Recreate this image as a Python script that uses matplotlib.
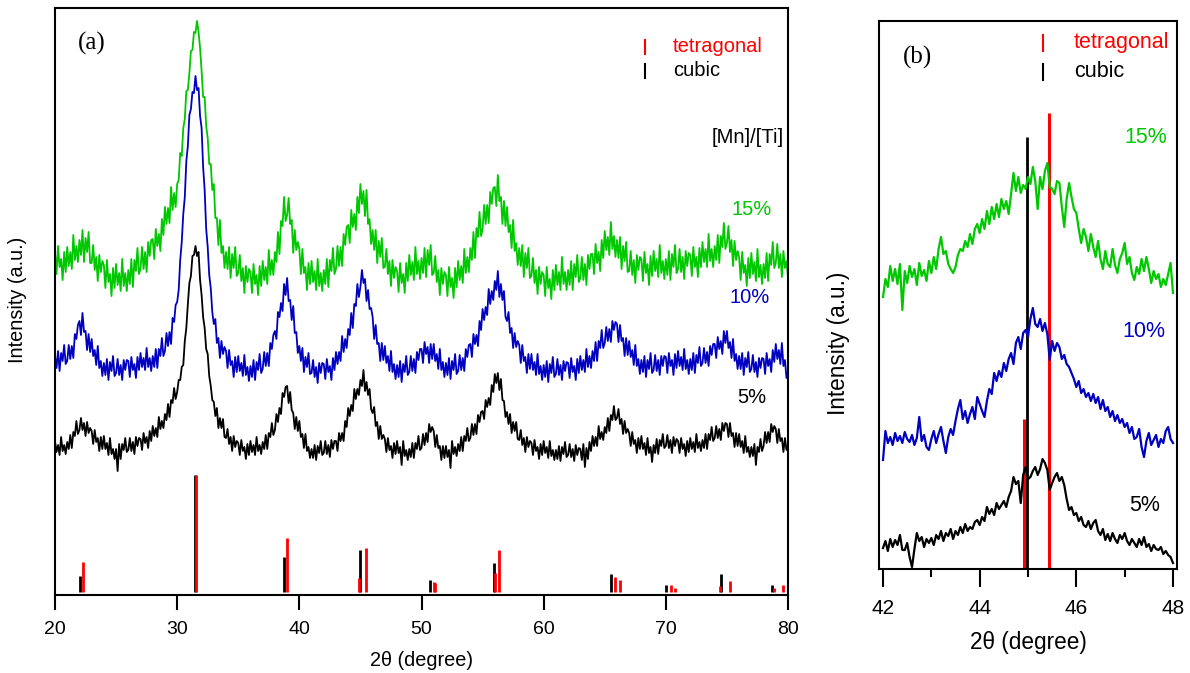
import matplotlib.pyplot as plt
import numpy as np

plt.rcParams['font.family'] = ['Liberation Sans', 'DejaVu Sans']

# ---- panel (a): full scan, 20-80 deg, 0.125 deg steps (8 points per degree row) ----
two_theta_a = np.linspace(20, 80, 481)

mn5_a = [154, 143, 150, 140, 158, 144, 150, 141,
         153, 146, 160, 147, 163, 159, 174, 161,
         165, 177, 165, 172, 159, 173, 162, 167,
         164, 151, 165, 153, 157, 144, 158, 146,
         159, 146, 152, 140, 157, 141, 146, 136,
         146, 124, 151, 136, 151, 145, 157, 143,
         145, 157, 144, 153, 141, 158, 149, 157,
         156, 145, 162, 152, 158, 147, 164, 154,
         169, 159, 167, 158, 178, 166, 174, 167,
         181, 175, 191, 178, 195, 192, 207, 196,
         203, 215, 215, 228, 230, 254, 267, 291,
         312, 319, 339, 340, 349, 339, 343, 315,
         300, 278, 267, 246, 241, 219, 209, 195,
         193, 179, 187, 167, 177, 167, 176, 158,
         157, 166, 151, 158, 144, 159, 148, 154,
         152, 140, 155, 144, 148, 136, 151, 140,
         154, 143, 150, 140, 158, 144, 150, 141,
         153, 146, 160, 146, 162, 158, 172, 160,
         165, 181, 173, 187, 181, 202, 198, 208,
         209, 192, 203, 185, 182, 166, 178, 164,
         174, 158, 161, 147, 161, 144, 148, 137,
         146, 137, 150, 135, 149, 142, 154, 140,
         142, 154, 141, 150, 138, 155, 146, 154,
         154, 144, 162, 154, 162, 154, 174, 168,
         187, 179, 190, 184, 206, 196, 206, 200,
         215, 209, 225, 204, 213, 200, 206, 186,
         182, 188, 169, 173, 156, 169, 156, 160,
         156, 143, 157, 145, 149, 137, 152, 141,
         154, 142, 148, 130, 154, 139, 145, 135,
         146, 138, 152, 137, 152, 146, 159, 145,
         147, 161, 150, 162, 153, 171, 163, 168,
         164, 148, 160, 147, 149, 135, 149, 137,
         149, 138, 145, 127, 154, 141, 148, 139,
         151, 144, 158, 144, 159, 154, 167, 154,
         157, 171, 160, 171, 161, 180, 173, 183,
         184, 176, 195, 188, 197, 190, 210, 203,
         221, 212, 222, 205, 216, 195, 194, 178,
         183, 171, 181, 162, 173, 164, 173, 156,
         155, 165, 150, 157, 143, 158, 148, 154,
         152, 140, 155, 144, 148, 136, 151, 140,
         154, 142, 148, 137, 154, 139, 145, 135,
         145, 136, 149, 134, 148, 141, 153, 138,
         140, 151, 138, 146, 134, 150, 140, 147,
         146, 135, 151, 128, 147, 136, 153, 144,
         159, 149, 158, 149, 169, 156, 163, 155,
         168, 162, 177, 164, 180, 175, 189, 175,
         177, 186, 171, 176, 161, 174, 162, 166,
         162, 149, 163, 151, 155, 142, 157, 146,
         159, 146, 152, 140, 157, 142, 148, 133,
         150, 142, 156, 141, 155, 149, 161, 147,
         149, 160, 147, 155, 142, 158, 149, 156,
         154, 142, 157, 146, 151, 139, 154, 143,
         157, 146, 153, 143, 161, 147, 153, 144,
         155, 147, 161, 146, 161, 155, 168, 154,
         157, 169, 157, 166, 155, 172, 164, 172,
         171, 158, 172, 159, 162, 148, 162, 149,
         161, 148, 154, 142, 159, 143, 148, 138,
         148, 139, 151, 130, 148, 143, 156, 144,
         149, 163, 152, 163, 153, 171, 163, 169,
         166, 152, 166, 154, 157, 143, 157, 145,
         148]

mn10_a = [239, 227, 244, 224, 242, 234, 250, 231,
          234, 250, 236, 249, 237, 261, 256, 270,
          274, 260, 282, 263, 264, 245, 261, 243,
          256, 239, 245, 230, 249, 227, 234, 219,
          232, 220, 236, 215, 233, 224, 239, 219,
          222, 236, 220, 230, 215, 235, 225, 235,
          234, 218, 238, 225, 231, 217, 238, 225,
          242, 228, 237, 225, 247, 228, 237, 224,
          239, 228, 246, 227, 246, 239, 257, 239,
          244, 262, 249, 263, 251, 277, 273, 290,
          293, 305, 335, 353, 381, 398, 434, 449,
          480, 486, 503, 502, 519, 505, 507, 479,
          467, 428, 405, 366, 348, 320, 307, 283,
          271, 276, 252, 257, 237, 254, 241, 248,
          244, 227, 245, 230, 234, 218, 238, 223,
          239, 224, 232, 219, 240, 220, 228, 214,
          229, 218, 235, 215, 233, 225, 241, 222,
          226, 243, 229, 242, 229, 252, 246, 260,
          264, 256, 283, 278, 292, 284, 311, 300,
          317, 294, 295, 275, 289, 262, 263, 242,
          249, 234, 247, 223, 238, 228, 242, 221,
          222, 235, 218, 228, 212, 232, 222, 232,
          231, 216, 236, 223, 229, 215, 237, 225,
          243, 231, 243, 234, 259, 243, 256, 247,
          266, 260, 282, 267, 291, 289, 311, 298,
          308, 325, 312, 316, 294, 305, 286, 287,
          278, 256, 270, 251, 252, 234, 252, 235,
          249, 232, 239, 224, 244, 223, 231, 216,
          230, 218, 234, 213, 231, 223, 239, 220,
          223, 239, 224, 236, 222, 243, 235, 246,
          246, 232, 253, 241, 248, 232, 251, 236,
          251, 234, 241, 226, 246, 225, 233, 218,
          232, 220, 237, 216, 234, 225, 241, 221,
          224, 240, 225, 237, 224, 246, 238, 250,
          251, 238, 261, 251, 260, 249, 274, 265,
          286, 275, 288, 280, 306, 291, 304, 295,
          314, 305, 324, 298, 311, 295, 304, 278,
          274, 283, 262, 267, 247, 262, 248, 254,
          250, 232, 250, 234, 238, 222, 241, 226,
          241, 225, 233, 220, 241, 221, 229, 215,
          230, 218, 234, 213, 231, 222, 238, 218,
          221, 236, 220, 230, 215, 234, 224, 233,
          232, 217, 237, 223, 229, 215, 236, 222,
          239, 225, 235, 223, 246, 228, 239, 227,
          244, 234, 253, 234, 254, 247, 265, 247,
          252, 268, 254, 266, 253, 274, 265, 273,
          271, 253, 270, 254, 257, 239, 257, 240,
          254, 238, 245, 230, 250, 229, 236, 221,
          235, 223, 239, 218, 235, 226, 242, 222,
          225, 240, 224, 235, 220, 239, 229, 239,
          238, 222, 242, 229, 235, 220, 241, 227,
          244, 229, 238, 225, 246, 226, 235, 221,
          236, 225, 242, 222, 240, 232, 248, 229,
          232, 247, 232, 243, 229, 249, 240, 251,
          251, 237, 258, 246, 254, 241, 264, 252,
          264, 247, 253, 237, 256, 234, 241, 226,
          239, 226, 242, 220, 237, 228, 243, 223,
          226, 240, 223, 233, 218, 237, 227, 237,
          236, 221, 242, 229, 236, 223, 245, 233,
          251, 236, 245, 231, 252, 229, 235, 217,
          224]

mn15_a = [343, 321, 349, 328, 336, 315, 343, 323,
          348, 329, 343, 326, 360, 335, 349, 333,
          355, 340, 365, 333, 357, 343, 363, 332,
          332, 350, 325, 338, 314, 340, 323, 334,
          330, 307, 335, 313, 321, 299, 327, 307,
          331, 310, 322, 304, 336, 309, 322, 304,
          325, 311, 336, 308, 335, 324, 347, 321,
          326, 348, 326, 343, 323, 353, 339, 355,
          356, 336, 366, 349, 361, 344, 376, 360,
          388, 371, 387, 372, 408, 385, 402, 388,
          411, 415, 442, 439, 467, 476, 504, 505,
          522, 544, 545, 563, 562, 574, 563, 547,
          524, 498, 498, 469, 457, 431, 431, 405,
          411, 377, 377, 350, 375, 342, 349, 327,
          343, 326, 348, 317, 341, 327, 348, 319,
          322, 340, 314, 327, 302, 329, 313, 326,
          323, 302, 331, 311, 320, 300, 329, 309,
          334, 315, 328, 311, 345, 320, 335, 320,
          343, 333, 363, 341, 374, 369, 398, 374,
          380, 397, 371, 375, 342, 365, 345, 353,
          346, 321, 346, 322, 328, 305, 332, 311,
          334, 313, 324, 305, 336, 309, 322, 304,
          325, 311, 336, 308, 335, 324, 347, 321,
          326, 349, 329, 348, 329, 361, 350, 368,
          370, 352, 385, 368, 381, 365, 398, 382,
          411, 391, 404, 379, 405, 371, 376, 351,
          365, 345, 365, 332, 354, 338, 357, 327,
          328, 346, 321, 334, 309, 335, 317, 328,
          324, 303, 332, 312, 321, 302, 332, 314,
          340, 320, 333, 315, 348, 321, 334, 316,
          337, 322, 347, 318, 345, 330, 350, 320,
          322, 339, 313, 325, 300, 327, 311, 323,
          320, 299, 328, 308, 317, 297, 327, 308,
          334, 315, 329, 312, 346, 322, 338, 323,
          347, 335, 363, 337, 367, 358, 383, 359,
          366, 390, 371, 390, 372, 403, 391, 407,
          408, 389, 420, 394, 398, 371, 394, 369,
          388, 363, 370, 347, 375, 344, 352, 330,
          347, 329, 350, 318, 342, 327, 347, 317,
          319, 337, 312, 325, 301, 328, 311, 323,
          320, 299, 328, 307, 316, 296, 325, 305,
          330, 310, 323, 305, 338, 311, 323, 305,
          325, 310, 334, 305, 331, 318, 340, 313,
          317, 338, 315, 331, 310, 340, 326, 341,
          341, 321, 351, 332, 343, 324, 355, 337,
          364, 345, 358, 340, 373, 346, 359, 338,
          355, 337, 358, 326, 349, 334, 353, 323,
          324, 344, 320, 335, 312, 340, 325, 338,
          336, 314, 343, 322, 331, 310, 339, 319,
          344, 324, 336, 318, 350, 322, 334, 316,
          336, 320, 344, 315, 341, 328, 350, 322,
          326, 346, 323, 338, 316, 344, 329, 342,
          340, 319, 348, 328, 338, 318, 347, 328,
          353, 333, 346, 328, 361, 334, 346, 328,
          349, 335, 360, 332, 359, 348, 372, 346,
          352, 369, 343, 355, 329, 354, 335, 344,
          338, 315, 343, 322, 330, 309, 337, 317,
          342, 321, 333, 314, 346, 318, 330, 311,
          331, 317, 342, 314, 341, 330, 353, 327,
          332, 351, 327, 341, 318, 344, 327, 334,
          318]

# reference patterns (stick positions / relative heights)
cubic_pos = [22.05, 31.42, 38.74, 44.98, 50.68, 55.95, 65.52, 70.0, 74.53, 78.7]
cubic_int = [19, 120, 38, 45, 15, 32, 21, 10, 21, 10]
tetra_pos = [22.3, 31.58, 38.95, 44.87, 45.45, 51.0, 51.12, 56.0, 56.33,
             65.83, 66.24, 70.4, 70.73, 74.42, 75.24, 78.85, 79.57]
tetra_int = [33, 120, 57, 17, 47, 13, 12, 22, 45, 18, 15, 10, 7, 9, 14, 7, 10]

# ---- panel (b): zoom on 42-48 deg, 0.05 deg steps ----
two_theta_b = np.linspace(42, 48, 121)

mn15_b = [272, 290, 282, 303, 288, 300, 285, 305, 259, 298,
          286, 303, 292, 300, 284, 306, 293, 299, 288, 308,
          296, 312, 300, 320, 332, 315, 318, 305, 300, 296,
          302, 314, 320, 318, 328, 322, 335, 325, 340, 345,
          336, 350, 340, 358, 345, 362, 350, 365, 352, 370,
          360, 368, 355, 375, 396, 378, 392, 376, 384, 380,
          392, 385, 402, 388, 360, 392, 380, 398, 406, 382,
          380, 375, 388, 386, 362, 342, 370, 386, 372, 360,
          356, 340, 326, 340, 332, 318, 335, 322, 312, 328,
          310, 300, 318, 305, 302, 320, 304, 296, 310, 316,
          326, 305, 312, 296, 289, 302, 295, 310, 298, 312,
          300, 286, 298, 290, 295, 282, 290, 284, 295, 306,
          276]

mn10_b = [109, 138, 126, 132, 124, 136, 128, 133, 126, 137,
          130, 127, 134, 124, 131, 152, 128, 134, 122, 119,
          130, 138, 126, 135, 142, 128, 116, 132, 140, 134,
          148, 160, 169, 150, 158, 146, 155, 162, 150, 172,
          165, 158, 152, 168, 180, 175, 196, 188, 198, 192,
          206, 198, 210, 216, 205, 226, 232, 220, 236, 239,
          232, 250, 261, 245, 242, 250, 238, 246, 235, 209,
          228, 218, 226, 222, 210, 214, 205, 202, 196, 190,
          182, 188, 176, 180, 172, 176, 168, 175, 166, 172,
          160, 169, 158, 162, 152, 158, 148, 154, 146, 150,
          142, 146, 136, 142, 130, 132, 140, 122, 112, 128,
          136, 124, 129, 134, 122, 130, 126, 138, 142, 130,
          126]

mn5_b = [21, 28, 18, 30, 22, 29, 24, 34, 19, 19,
         26, 12, 2, 20, 36, 28, 32, 22, 30, 26,
         31, 24, 34, 30, 38, 28, 36, 33, 40, 30,
         38, 34, 42, 36, 45, 38, 42, 40, 47, 49,
         44, 52, 48, 62, 55, 60, 54, 66, 60, 64,
         68, 62, 72, 78, 92, 85, 88, 66, 94, 102,
         90, 92, 98, 102, 94, 100, 110, 106, 99, 79,
         86, 92, 96, 88, 92, 84, 70, 59, 62, 54,
         56, 48, 52, 44, 42, 48, 40, 46, 49, 38,
         34, 40, 29, 35, 28, 36, 30, 26, 34, 30,
         36, 28, 24, 30, 26, 22, 30, 24, 32, 22,
         25, 18, 24, 20, 19, 22, 15, 18, 14, 12,
         6]

cubic_pos_b = [44.98]
cubic_int_b = [432]
tetra_pos_b = [44.91, 45.43]
tetra_int_b = [150, 456]

GREEN = '#00c800'
BLUE = '#0000c0'
RED = '#ff0000'

fig = plt.figure(figsize=(11.9, 6.73), dpi=100)
ax1 = fig.add_axes([55 / 1190, 78 / 673, 733 / 1190, 587 / 673])
ax2 = fig.add_axes([879 / 1190, 104 / 673, 298 / 1190, 548 / 673])

# panel (a)
ax1.plot(two_theta_a, mn15_a, color=GREEN, lw=1.3)
ax1.plot(two_theta_a, mn10_a, color=BLUE, lw=1.3)
ax1.plot(two_theta_a, mn5_a, color='black', lw=1.3)
ax1.vlines(cubic_pos, 3, cubic_int, color='black', lw=2)
ax1.vlines(tetra_pos, 3, tetra_int, color=RED, lw=2)
ax1.set_xlim(20, 80)
ax1.set_ylim(0, 587)
ax1.set_xticks(range(20, 81, 10))
ax1.set_yticks([])
ax1.tick_params(axis='x', direction='out', length=11, width=1.5, labelsize=14, pad=8)
ax1.set_xlabel('2θ (degree)', fontsize=14.3)
ax1.xaxis.label.set_va('center')
ax1.xaxis.set_label_coords(0.5, -0.111)

ax1.text(0.031, 0.94, '(a)', transform=ax1.transAxes, fontsize=18,
         family='Liberation Serif', va='center', ha='left')
ax1.plot([0.805, 0.805], [0.922, 0.946], transform=ax1.transAxes, color=RED, lw=1.5)
ax1.plot([0.805, 0.805], [0.881, 0.905], transform=ax1.transAxes, color='black', lw=1.5)
ax1.text(0.843, 0.934, 'tetragonal', transform=ax1.transAxes, color=RED,
         fontsize=14.5, va='center', ha='left')
ax1.text(0.843, 0.893, 'cubic', transform=ax1.transAxes, color='black',
         fontsize=14.5, va='center', ha='left')
ax1.text(0.9945, 0.780, '[Mn]/[Ti]', transform=ax1.transAxes, fontsize=14.5,
         va='center', ha='right')
ax1.text(0.978, 0.656, '15%', transform=ax1.transAxes, color=GREEN,
         fontsize=14.5, va='center', ha='right')
ax1.text(0.975, 0.506, '10%', transform=ax1.transAxes, color=BLUE,
         fontsize=14.5, va='center', ha='right')
ax1.text(0.970, 0.336, '5%', transform=ax1.transAxes, color='black',
         fontsize=14.5, va='center', ha='right')

# panel (b)
ax2.vlines(cubic_pos_b, 0, cubic_int_b, color='black', lw=2, zorder=1)
ax2.vlines(tetra_pos_b, 0, tetra_int_b, color=RED, lw=2.2, zorder=1)
ax2.plot(two_theta_b, mn15_b, color=GREEN, lw=1.6, zorder=2)
ax2.plot(two_theta_b, mn10_b, color=BLUE, lw=1.6, zorder=2)
ax2.plot(two_theta_b, mn5_b, color='black', lw=1.6, zorder=2)
ax2.set_xlim(41.917, 48.083)
ax2.set_ylim(0, 548)
ax2.set_xticks([42, 44, 46, 48])
ax2.set_xticks([43, 45, 47], minor=True)
ax2.set_yticks([])
ax2.tick_params(axis='x', which='major', direction='out', length=12.7, width=1.5,
                labelsize=15, pad=9)
ax2.tick_params(axis='x', which='minor', direction='out', length=5.5, width=1.5)
ax2.set_xlabel('2θ (degree)', fontsize=16.3)
ax2.xaxis.label.set_va('center')
ax2.xaxis.set_label_coords(0.5, -0.135)

ax2.text(0.0805, 0.934, '(b)', transform=ax2.transAxes, fontsize=18,
         family='Liberation Serif', va='center', ha='left')
ax2.plot([0.550, 0.550], [0.945, 0.975], transform=ax2.transAxes, color=RED, lw=1.5)
ax2.plot([0.550, 0.550], [0.892, 0.922], transform=ax2.transAxes, color='black', lw=1.5)
ax2.text(0.654, 0.960, 'tetragonal', transform=ax2.transAxes, color=RED,
         fontsize=15.5, va='center', ha='left')
ax2.text(0.654, 0.907, 'cubic', transform=ax2.transAxes, color='black',
         fontsize=15.5, va='center', ha='left')
ax2.text(0.966, 0.788, '15%', transform=ax2.transAxes, color=GREEN,
         fontsize=15.5, va='center', ha='right')
ax2.text(0.960, 0.4325, '10%', transform=ax2.transAxes, color=BLUE,
         fontsize=15.5, va='center', ha='right')
ax2.text(0.943, 0.115, '5%', transform=ax2.transAxes, color='black',
         fontsize=15.5, va='center', ha='right')

for ax in (ax1, ax2):
    for sp in ax.spines.values():
        sp.set_linewidth(1.5)

fig.text(18 / 1190, 1 - 300 / 673, 'Intensity (a.u.)', rotation=90,
         fontsize=14.3, ha='center', va='center')
fig.text(838 / 1190, 1 - 343 / 673, 'Intensity (a.u.)', rotation=90,
         fontsize=16.3, ha='center', va='center')

fig.savefig('out.png', dpi=100)
